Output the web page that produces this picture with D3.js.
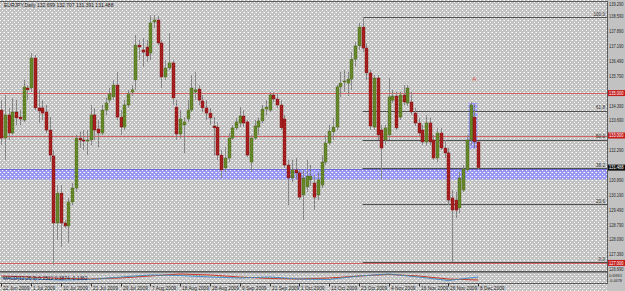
<!DOCTYPE html>
<html>
<head>
<meta charset="utf-8">
<script src="https://cdn.jsdelivr.net/npm/d3@7"></script>
<style>
  body { margin: 0; background: #c4c4c4; }
  svg { display: block; }
  text { font-family: "Liberation Sans", "DejaVu Sans", sans-serif; }
</style>
</head>
<body>
<svg id="chart" width="625" height="291"></svg>
<script>
// EURJPY, Daily, 22 Jun 2009 .. 8 Dec 2009 (one value per bar)
const open = [134.20,132.88,133.97,133.12,134.11,133.87,133.73,135.24,135.24,136.65,134.30,134.30,134.11,133.26,132.04,128.88,130.29,128.88,128.74,129.87,
  130.53,132.88,132.79,132.74,132.79,133.97,133.31,133.12,134.20,134.67,134.82,135.38,133.87,133.40,134.44,135.05,135.62,137.26,137.03,137.17,
  136.89,138.35,138.44,137.36,135.76,136.18,136.42,134.34,133.07,133.50,133.78,134.20,135.05,135.19,134.63,134.30,134.06,133.45,133.40,132.08,
  131.47,131.94,132.88,133.36,133.59,133.92,133.64,131.75,132.88,133.40,133.69,134.25,134.20,134.91,134.72,134.44,133.78,131.61,131.00,131.38,
  131.24,130.20,130.58,130.91,130.76,130.20,130.67,131.75,132.65,133.17,133.40,135.29,135.52,135.47,135.66,136.60,137.22,138.11,137.12,135.95,
  133.40,135.71,133.26,132.79,133.03,134.67,134.86,133.87,134.91,134.53,134.58,134.06,133.59,133.26,132.70,133.59,132.79,131.94,133.12,132.41,
  132.18,130.06,129.96,129.59,130.43,131.38,132.79,133.87,132.699]
const high = [134.67,134.91,134.30,134.77,134.67,134.20,135.62,135.38,136.89,136.79,135.15,134.67,134.44,133.87,132.32,130.67,130.67,129.02,130.06,130.76,
  133.03,133.17,133.26,133.26,134.44,134.30,133.73,134.44,134.77,135.24,135.62,135.99,134.20,134.67,135.15,135.38,137.74,137.50,137.59,137.50,
  138.68,138.68,138.63,137.50,136.56,137.83,136.56,134.67,134.20,133.87,134.67,135.85,135.99,135.38,134.91,134.67,134.30,133.87,133.64,132.32,
  132.46,133.12,133.50,133.83,134.34,134.20,133.73,133.03,133.73,133.83,134.44,134.67,135.05,135.05,135.00,134.67,133.97,131.85,131.85,131.94,
  131.38,131.38,131.85,131.61,131.14,131.28,132.08,133.03,133.50,133.83,135.38,135.99,136.09,135.99,136.93,137.41,138.30,138.58,137.36,136.09,
  135.85,135.85,133.50,133.50,135.71,135.15,135.05,135.05,135.38,135.38,135.05,134.30,133.83,133.50,133.97,133.83,133.03,133.36,133.36,132.79,
  132.41,130.43,130.34,131.28,131.61,133.03,134.58,134.49,132.707]
const low = [132.55,131.85,132.79,133.03,133.50,133.50,133.64,134.67,135.05,134.20,133.59,133.73,133.12,131.75,126.90,128.08,127.75,128.64,127.94,129.73,
  130.34,132.41,132.32,132.08,132.55,132.79,132.46,133.03,133.97,134.53,134.67,133.73,133.03,133.26,134.30,134.86,135.15,136.56,136.23,136.46,
  136.56,138.07,137.26,135.24,135.62,136.09,134.44,132.79,132.88,132.18,133.64,134.11,134.67,134.44,134.11,133.73,133.50,132.08,131.85,131.00,
  131.28,131.75,132.79,133.26,133.40,133.40,131.99,131.28,132.79,133.03,133.59,133.97,134.11,134.58,134.30,133.26,131.47,129.73,130.81,130.91,
  129.96,129.02,130.34,130.62,129.49,129.96,130.53,131.61,132.55,132.79,133.26,134.82,135.05,134.86,135.15,136.23,137.03,136.93,135.62,133.26,
  133.26,132.79,130.95,132.55,132.79,134.53,133.26,133.73,134.44,134.39,133.97,133.45,132.98,132.55,132.51,132.55,131.85,131.75,132.32,131.94,
  129.73,127.04,129.12,129.35,130.34,131.28,132.55,132.41,131.391]
const close = [132.88,133.97,133.12,134.11,133.83,133.78,135.29,135.15,136.65,134.30,134.16,134.06,133.26,132.08,128.88,130.29,128.88,128.74,129.87,130.53,
  132.88,132.79,132.74,132.79,133.97,133.26,133.12,134.20,134.53,134.96,135.38,133.87,133.40,134.44,134.96,135.15,137.26,137.17,136.93,136.75,
  138.30,138.44,137.36,135.76,136.18,136.42,134.77,133.07,133.78,133.64,134.20,135.24,135.15,134.67,134.30,134.06,133.83,133.36,132.08,131.38,
  131.94,132.88,133.36,133.64,133.92,133.59,132.08,132.88,133.45,133.69,134.25,134.34,134.91,134.72,134.44,133.36,131.61,131.00,131.38,131.24,
  130.10,131.00,131.09,131.09,130.10,130.91,131.75,132.65,133.21,133.40,135.29,135.47,135.57,135.66,136.60,137.22,138.11,137.12,135.95,133.45,
  135.71,133.03,132.41,133.36,134.82,134.86,133.36,134.91,134.58,135.24,134.11,133.59,133.12,132.70,133.59,132.70,131.94,133.12,132.41,132.18,
  129.96,129.49,129.49,131.00,131.42,132.79,134.44,132.70,131.488]

// date labels, one every 8 bars
const dateLabels = ["22 Jun 2009","1 Jul 2009","10 Jul 2009","21 Jul 2009","29 Jul 2009","7 Aug 2009","18 Aug 2009","28 Aug 2009",
  "9 Sep 2009","21 Sep 2009","1 Oct 2009","13 Oct 2009","23 Oct 2009","4 Nov 2009","16 Nov 2009","26 Nov 2009","8 Dec 2009"]
const priceTicks = [139.290,138.590,137.890,137.190,136.490,135.790,135.090,134.390,133.690,132.990,132.290,131.590,130.890,
  130.190,129.490,128.790,128.090,127.390,126.690]

const redLevels = [135.000, 133.000, 127.000]
const fibLevels = ["0.0","23.6","38.2","50.0","61.8","100.0"]
const fibHigh = 138.58, fibLow = 127.04, fibStartBar = 97
const zoneTop = 131.40, zoneBottom = 130.93
const boxBars = [126, 127], boxTop = 134.53, boxBottom = 132.37
const markA = {bar: 127, price: 135.55}

// indicator sub-window, sampled at the date labels
const indMain = [-0.11,-0.33,-0.56,-0.44,0.11,0.56,0.44,0.11,-0.11,0.11,-0.33,-0.44,0.33,0.78,0.11,-0.67,0.11]
const indSignal = [0.33,0.11,-0.22,-0.33,-0.11,0.33,0.78,0.56,0.11,-0.22,-0.33,-0.11,0.33,0.67,0.33,-0.33,-0.56]
const indScale = ['0.6931', '-0.4478']

const title = "EURJPY,Daily  132.699 132.707 131.391 131.488"

const svg = d3.select('#chart')
const W = 625, plotR = 607, plotTop = 1, plotBottom = 271
const labelX = plotR + 2, labelW = 14.5

const x = d3.scaleLinear().domain([0, 128]).range([1.3, 478.1])
const y = d3.scaleLinear().domain([126.69, 139.29]).range([269.5, 2])
const step = x(1) - x(0)

const defs = svg.append('defs')
const pat = defs.append('pattern').attr('id', 'dots')
  .attr('width', 4).attr('height', 4).attr('patternUnits', 'userSpaceOnUse')
pat.append('rect').attr('width', 1).attr('height', 1).attr('fill', '#fff')
pat.append('rect').attr('x', 2).attr('y', 2).attr('width', 1).attr('height', 1).attr('fill', '#fff')
pat.append('rect').attr('x', 3).attr('y', 0).attr('width', 1).attr('height', 1).attr('fill', '#fff').attr('opacity', 0.5)
defs.append('clipPath').attr('id', 'plotclip')
  .append('rect').attr('x', 0).attr('y', plotTop).attr('width', plotR).attr('height', plotBottom - plotTop)

// background
svg.append('rect').attr('width', W).attr('height', 291).attr('fill', '#c2c2c2')

// zone & box (behind everything)
svg.append('rect').attr('x', 0).attr('width', plotR)
  .attr('y', y(zoneTop)).attr('height', y(zoneBottom) - y(zoneTop))
  .attr('fill', '#9898f4')
svg.append('line').attr('x1', 0).attr('x2', plotR)
  .attr('y1', y(zoneTop)).attr('y2', y(zoneTop))
  .attr('stroke', '#6a6ad4').attr('stroke-width', 1)
svg.append('rect')
  .attr('x', x(boxBars[0]) - step * 0.6).attr('width', x(boxBars[1]) - x(boxBars[0]) + step * 1.4)
  .attr('y', y(boxTop)).attr('height', y(boxBottom) - y(boxTop))
  .attr('fill', '#9898f4')

// dot texture
svg.append('rect').attr('width', plotR).attr('height', 291).attr('fill', 'url(#dots)')

const plot = svg.append('g').attr('clip-path', 'url(#plotclip)')

// red horizontal levels
plot.selectAll('.lvl').data(redLevels).enter().append('line')
  .attr('x1', 0).attr('x2', plotR)
  .attr('y1', d => Math.round(y(d)) + 0.5).attr('y2', d => Math.round(y(d)) + 0.5)
  .attr('stroke', '#d46060').attr('stroke-width', 1)

// fibonacci
const fibPrice = f => fibLow + (fibHigh - fibLow) * (+f) / 100
plot.selectAll('.fib').data(fibLevels).enter().append('line')
  .attr('x1', x(fibStartBar)).attr('x2', plotR)
  .attr('y1', d => Math.round(y(fibPrice(d))) + 0.5).attr('y2', d => Math.round(y(fibPrice(d))) + 0.5)
  .attr('stroke', '#505050').attr('stroke-width', 1)
plot.selectAll('.fibt').data(fibLevels).enter().append('text')
  .attr('x', plotR - 2).attr('y', d => y(fibPrice(d)) - 1.5)
  .attr('text-anchor', 'end').attr('font-size', 4.6).attr('fill', '#333')
  .text(d => d)

// candles
const bars = d3.range(open.length)
plot.selectAll('.wick').data(bars).enter().append('line')
  .attr('x1', i => Math.round(x(i)) + 0.5).attr('x2', i => Math.round(x(i)) + 0.5)
  .attr('y1', i => y(high[i])).attr('y2', i => y(low[i]))
  .attr('stroke', '#888').attr('stroke-width', 1)
plot.selectAll('.body').data(bars).enter().append('rect')
  .attr('x', i => Math.round(x(i)) - 1)
  .attr('width', 3)
  .attr('y', i => y(Math.max(open[i], close[i])))
  .attr('height', i => Math.max(1, Math.abs(y(open[i]) - y(close[i]))))
  .attr('fill', i => close[i] >= open[i] ? '#66882a' : '#a81e1e')
  .attr('stroke', i => close[i] >= open[i] ? '#4a6418' : '#7a1010')
  .attr('stroke-width', 0.4)

// "A" mark
plot.append('text').attr('x', x(markA.bar)).attr('y', y(markA.price))
  .attr('text-anchor', 'middle').attr('font-size', 6).attr('fill', '#e04848').text('A')

// frame lines
svg.append('line').attr('x1', 0).attr('x2', plotR + 0.5).attr('y1', 1.5).attr('y2', 1.5)
  .attr('stroke', '#5a5a5a')
svg.append('line').attr('x1', plotR + 0.5).attr('x2', plotR + 0.5).attr('y1', 1).attr('y2', 284)
  .attr('stroke', '#5a5a5a')
svg.append('rect').attr('x', 0).attr('y', plotBottom).attr('width', plotR).attr('height', 1.6)
  .attr('fill', '#555')

// price axis
const axisLabel = sel => sel
  .attr('x', labelX).attr('font-size', 4.6)
  .attr('textLength', labelW).attr('lengthAdjust', 'spacingAndGlyphs')
const highlight = redLevels.map(d => y(d)).concat([y(close[close.length - 1])])
const axisTicks = priceTicks.filter(p => highlight.every(h => Math.abs(y(p) - h) > 5))
svg.selectAll('.ptick').data(axisTicks).enter().append('text')
  .call(axisLabel)
  .attr('y', d => Math.max(5.5, y(d) + 1.6))
  .attr('fill', '#2a2a2a')
  .text(d => d3.format('.3f')(d))
const tags = redLevels.map(v => ({v, c: '#c41c1c'})).concat([{v: close[close.length - 1], c: '#101010'}])
const tg = svg.selectAll('.tag').data(tags).enter().append('g')
tg.append('rect').attr('x', plotR + 1).attr('y', d => y(d.v) - 3).attr('width', W - plotR - 1).attr('height', 6)
  .attr('fill', d => d.c)
tg.append('text').call(axisLabel).attr('y', d => y(d.v) + 1.6)
  .attr('fill', '#fff').text(d => d3.format('.3f')(d.v))

// indicator window
const iy = d3.scaleLinear().domain([-1, 1]).range([282, 273])
const ix = (d, k) => x(k * 8)
const ind = svg.append('g')
ind.append('path').datum(indSignal)
  .attr('d', d3.line().x(ix).y(d => iy(d)))
  .attr('fill', 'none').attr('stroke', '#d02020').attr('stroke-width', 0.9)
ind.append('path').datum(indMain)
  .attr('d', d3.line().x(ix).y(d => iy(d)))
  .attr('fill', 'none').attr('stroke', '#3a82d8').attr('stroke-width', 0.9)
ind.append('path').datum(indMain.map((d, k) => (d + indSignal[k]) / 2))
  .attr('d', d3.line().x(ix).y(d => iy(d)))
  .attr('fill', 'none').attr('stroke', '#6a9a20').attr('stroke-width', 0.8).attr('stroke-dasharray', '1,2')
svg.append('text').attr('x', 3).attr('y', 279.5).attr('font-size', 4.9).attr('fill', '#1a1a40')
  .text('MACD(12,26,9) 0.2512 0.3874 -0.1362')
svg.selectAll('.iscale').data(indScale).enter().append('text')
  .attr('x', labelX).attr('y', (d, k) => 277 + k * 4.5).attr('font-size', 4.2)
  .attr('textLength', 13).attr('lengthAdjust', 'spacingAndGlyphs')
  .attr('fill', '#222').text(d => d)

// time axis
svg.append('line').attr('x1', 0).attr('x2', plotR).attr('y1', 283.5).attr('y2', 283.5).attr('stroke', '#5a5a5a')
const dg = svg.selectAll('.dtick').data(dateLabels).enter().append('g')
  .attr('transform', (d, k) => `translate(${Math.round(x(k * 8)) + 0.5},0)`)
dg.append('line').attr('y1', 283.5).attr('y2', 286.5).attr('stroke', '#333')
dg.append('text').attr('x', 1.5).attr('y', 289.5).attr('font-size', 4.8).attr('fill', '#2a2a2a').text(d => d)

// title
svg.append('text').attr('x', 4).attr('y', 7).attr('font-size', 5).attr('fill', '#1a1a1a').text(title)
</script>
</body>
</html>
